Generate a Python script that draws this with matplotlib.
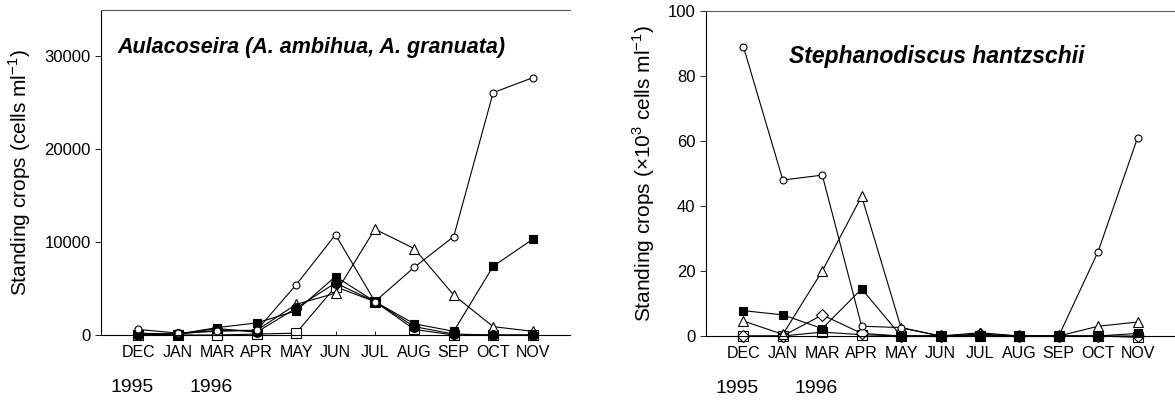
import numpy as np
import matplotlib.pyplot as plt

plt.rcParams['font.family'] = ['Liberation Sans', 'DejaVu Sans']

months = ['DEC', 'JAN', 'MAR', 'APR', 'MAY', 'JUN', 'JUL', 'AUG', 'SEP', 'OCT', 'NOV']
years = ['1995', '1996']
nan = np.nan

# Aulacoseira (cells ml-1)
aul_open_circle = [600, 200, 400, 500, 5400, 10800, 3600, 7300, 10600, 26100, 27700]
aul_filled_square = [100, 100, 800, 1300, 2600, 6300, 3600, 1200, 400, 7400, 10300]
aul_open_triangle = [200, 100, 500, 500, 3300, 4500, 11400, 9300, 4300, 900, 400]
aul_open_square = [0, 0, 0, 100, 200, 5200, 3600, 600, 0, 0, 0]
aul_filled_circle = [50, 100, 700, 300, 2900, 5600, 3600, 900, 100, 0, 0]

# Stephanodiscus hantzschii (x10^3 cells ml-1)
ste_open_circle = [89, 48, 49.5, 3, 2.6, 0, 0, 0, 0, 26, 61]
ste_open_triangle = [4.6, 0.5, 20, 43, 2.5, 0, 1, 0, 0, 3, 4.3]
ste_filled_square = [7.8, 6.5, 2.3, 14.5, 0, 0, 0, 0, 0, 0, 0.8]
ste_open_diamond = [0, 0, 6.5, 0.8, 0, 0, 0.6, 0, 0, 0, 0]
ste_open_square = [0, 0, 1.2, 0.4, 0, 0, 0, 0, 0, 0, -0.4]
ste_filled_circle = [nan, nan, nan, nan, 0, 0, 0, 0, 0, nan, nan]

x = np.arange(len(months))

styles = {
    'oc': dict(marker='o', mfc='white', ms=5),
    'fs': dict(marker='s', mfc='black', ms=6),
    'ot': dict(marker='^', mfc='white', ms=7),
    'os': dict(marker='s', mfc='white', ms=6.5),
    'fc': dict(marker='o', mfc='black', ms=7),
    'od': dict(marker='D', mfc='white', ms=6),
}

fig = plt.figure(figsize=(11.75, 4.01), dpi=100)
ax1 = fig.add_axes([101 / 1175, 1 - 335 / 401, 469 / 1175, 325 / 401])
ax2 = fig.add_axes([706 / 1175, 1 - 336 / 401, 469 / 1175, 325 / 401])

left_series = [(aul_open_square, 'os'), (aul_open_triangle, 'ot'), (aul_filled_circle, 'fc'),
               (aul_filled_square, 'fs'), (aul_open_circle, 'oc')]
right_series = [(ste_open_square, 'os'), (ste_open_diamond, 'od'), (ste_open_triangle, 'ot'),
                (ste_filled_square, 'fs'), (ste_open_circle, 'oc'), (ste_filled_circle, 'fc')]

for ax, series in ((ax1, left_series), (ax2, right_series)):
    for vals, key in series:
        ax.plot(x, vals, color='black', lw=0.8, mec='black', mew=0.8, clip_on=False, **styles[key])
    ax.set_xlim(-0.95, 10.95)
    ax.set_xticks(x)
    ax.set_xticklabels(months, fontsize=11.5)
    ax.tick_params(axis='x', direction='in', length=3, pad=7, width=0.6)
    ax.tick_params(axis='y', direction='out', length=4, width=0.6, labelsize=12)
    ax.spines['right'].set_visible(False)
    ax.spines['top'].set_color('0.35')
    for s in ('left', 'bottom', 'top'):
        ax.spines[s].set_linewidth(0.8)

ax1.set_ylim(0, 35000)
ax1.set_yticks([0, 10000, 20000, 30000])
ax1.set_ylabel('Standing crops (cells ml$^{\\mathregular{-1}}$)', fontsize=15, labelpad=8)
ax1.text(0.035, 0.885, 'Aulacoseira (A. ambihua, A. granuata)', transform=ax1.transAxes,
         fontsize=15.5, fontweight='bold', fontstyle='italic', va='center')

ax2.set_ylim(0, 100)
ax2.set_yticks([0, 20, 40, 60, 80, 100])
ax2.set_ylabel('Standing crops ($\\mathregular{\\times 10^3}$ cells ml$^{\\mathregular{-1}}$)',
               fontsize=15, labelpad=8)
ax2.text(0.177, 0.86, 'Stephanodiscus hantzschii', transform=ax2.transAxes,
         fontsize=16.5, fontweight='bold', fontstyle='italic', va='center')

for ax in (ax1, ax2):
    for i, yr in enumerate(years):
        ax.annotate(yr, xy=(i * 2 - 0.15, 0), xycoords=('data', 'axes fraction'),
                    xytext=(0, -38), textcoords='offset points', ha='center', va='center',
                    fontsize=14, annotation_clip=False)

fig.savefig('out.png', dpi=100)
